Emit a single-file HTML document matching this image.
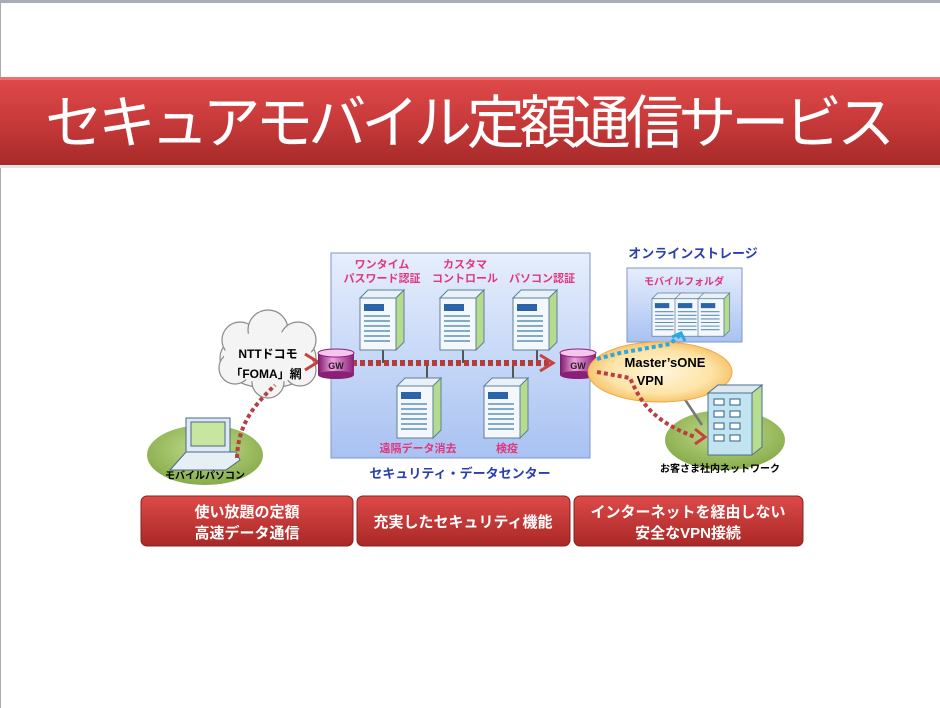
<!DOCTYPE html>
<html><head><meta charset="utf-8"><style>
html,body{margin:0;padding:0;background:#fff}
body{width:940px;height:708px;overflow:hidden;position:relative;font-family:"Liberation Sans","Noto Sans CJK JP",sans-serif}
</style></head><body>
<svg width="940" height="708" viewBox="0 0 940 708" xmlns="http://www.w3.org/2000/svg" style="position:absolute;left:0;top:0">
<defs>
<linearGradient id="tb" x1="0" y1="0" x2="0" y2="1"><stop offset="0" stop-color="#e04a4a"/><stop offset="0.5" stop-color="#c83a3a"/><stop offset="1" stop-color="#a82a2a"/></linearGradient>
<linearGradient id="bb" x1="0" y1="0" x2="0" y2="1"><stop offset="0" stop-color="#dd4a48"/><stop offset="1" stop-color="#a92826"/></linearGradient>
<linearGradient id="dc" x1="0" y1="0" x2="0" y2="1"><stop offset="0" stop-color="#e6eefc"/><stop offset="1" stop-color="#a9c2f2"/></linearGradient>
<radialGradient id="vpn" cx="0.5" cy="0.5" r="0.6"><stop offset="0" stop-color="#fff6dc"/><stop offset="0.6" stop-color="#fde3a6"/><stop offset="1" stop-color="#f4b24a"/></radialGradient>
<radialGradient id="gr" cx="0.5" cy="0.4" r="0.6"><stop offset="0" stop-color="#c5dc8e"/><stop offset="1" stop-color="#86ac4a"/></radialGradient>
<linearGradient id="cyl" x1="0" y1="0" x2="1" y2="0"><stop offset="0" stop-color="#7a1a6a"/><stop offset="0.4" stop-color="#f0a0e0"/><stop offset="1" stop-color="#8a1f78"/></linearGradient>
<g id="srv">
<polygon points="0,8 8,0 44,0 36,8" fill="#e8f0f8" stroke="#5d7f9b" stroke-width="1"/>
<polygon points="36,8 44,0 44,52 36,60" fill="#b5dc8e" stroke="#5d7f9b" stroke-width="1"/>
<rect x="0" y="8" width="36" height="52" fill="#f4f8fc" stroke="#5d7f9b" stroke-width="1"/>
<rect x="4" y="14" width="20" height="7" fill="#2b64a8"/>
<g stroke="#5d8fb8" stroke-width="1.5"><line x1="4" y1="26" x2="30" y2="26"/><line x1="4" y1="31" x2="30" y2="31"/><line x1="4" y1="36" x2="30" y2="36"/><line x1="4" y1="41" x2="30" y2="41"/><line x1="4" y1="46" x2="30" y2="46"/><line x1="4" y1="51" x2="30" y2="51"/></g>
</g>
<g id="gw">
<rect x="0" y="5" width="36" height="22" fill="url(#cyl)"/>
<ellipse cx="18" cy="27" rx="18" ry="4" fill="#8a1f78"/>
<ellipse cx="18" cy="5" rx="18" ry="4" fill="#f6c6ee" stroke="#8a1f78"/>
<text x="18" y="21" font-size="9" font-weight="bold" text-anchor="middle" fill="#222">GW</text>
</g>
</defs>
<rect x="0" y="0" width="940" height="3" fill="#a8acb4"/>
<rect x="0" y="0" width="1" height="708" fill="#a8acb4"/>
<rect x="0" y="165" width="940" height="3" fill="#e4e4e4"/>
<rect x="0" y="77" width="940" height="88" fill="url(#tb)"/>
<rect x="0" y="77" width="940" height="3" fill="#ec7070"/>
<text x="470" y="143" font-size="58" fill="#fff" text-anchor="middle" textLength="850">セキュアモバイル定額通信サービス</text>

<rect x="331" y="253" width="259" height="205" fill="url(#dc)" stroke="#7f97c8"/>
<g font-size="11" font-weight="bold" fill="#e0357f" text-anchor="middle">
<text x="382" y="268">ワンタイム</text><text x="382" y="282">パスワード認証</text>
<text x="465" y="268">カスタマ</text><text x="465" y="282">コントロール</text>
<text x="542" y="282">パソコン認証</text>
<text x="418" y="452">遠隔データ消去</text><text x="507" y="452">検疫</text>
</g>
<g stroke="#555" stroke-width="2"><line x1="383" y1="350" x2="383" y2="363"/><line x1="463" y1="350" x2="463" y2="363"/><line x1="537" y1="350" x2="537" y2="363"/><line x1="427" y1="363" x2="427" y2="378"/><line x1="513" y1="363" x2="513" y2="378"/></g>
<use href="#srv" x="360" y="290"/><use href="#srv" x="440" y="290"/><use href="#srv" x="513" y="290"/>
<use href="#srv" x="397" y="378"/><use href="#srv" x="484" y="378"/>
<line x1="352" y1="363" x2="552" y2="363" stroke="#b33c3c" stroke-width="6" stroke-dasharray="5,3"/>
<polyline points="540,355 553,363 540,371" fill="none" stroke="#c84040" stroke-width="3"/>
<text x="460" y="478" font-size="13" font-weight="bold" fill="#2a3fb0" text-anchor="middle">セキュリティ・データセンター</text>

<g fill="#f4f4f4" stroke="#8a8a8a" stroke-width="1.2">
<ellipse cx="268" cy="358" rx="48" ry="30"/>
<circle cx="240" cy="340" r="18"/><circle cx="268" cy="330" r="20"/><circle cx="298" cy="340" r="18"/>
<circle cx="235" cy="368" r="16"/><circle cx="300" cy="370" r="16"/><circle cx="268" cy="382" r="16"/>
</g>
<ellipse cx="268" cy="357" rx="44" ry="26" fill="#f4f4f4"/>
<text x="268" y="358" font-size="12" font-weight="bold" text-anchor="middle">NTTドコモ</text>
<text x="266" y="378" font-size="12" font-weight="bold" text-anchor="middle">「FOMA」網</text>
<polyline points="305,354 318,362 305,370" fill="none" stroke="#c84040" stroke-width="3"/>
<use href="#gw" x="318" y="348"/>
<use href="#gw" x="560" y="348"/>

<ellipse cx="205" cy="455" rx="58" ry="30" fill="url(#gr)"/>
<rect x="186" y="418" width="44" height="34" fill="#dfe9f3" stroke="#4a6888"/>
<rect x="191" y="422" width="34" height="24" fill="#c8e6a0" stroke="#4a6888"/>
<polygon points="170,470 186,452 236,452 240,460 226,470" fill="#e6eef6" stroke="#4a6888"/>
<text x="205" y="479" font-size="10" font-weight="bold" text-anchor="middle">モバイルパソコン</text>
<path d="M237,458 C238,420 260,400 275,385" fill="none" stroke="#b84040" stroke-width="4" stroke-dasharray="4,3"/>

<text x="693" y="258" font-size="13" font-weight="bold" fill="#2a3fb0" text-anchor="middle">オンラインストレージ</text>
<rect x="627" y="268" width="115" height="74" fill="url(#dc)" stroke="#7f97c8"/>
<text x="684" y="285" font-size="10" font-weight="bold" fill="#e0357f" text-anchor="middle">モバイルフォルダ</text>
<g transform="translate(652,293) scale(0.72)"><use href="#srv"/></g>
<g transform="translate(675,293) scale(0.72)"><use href="#srv"/></g>
<g transform="translate(698,293) scale(0.72)"><use href="#srv"/></g>

<ellipse cx="725" cy="440" rx="60" ry="30" fill="url(#gr)"/>
<line x1="682" y1="395" x2="702" y2="425" stroke="#777" stroke-width="2.5"/>

<ellipse cx="660" cy="372" rx="72" ry="30" fill="url(#vpn)" stroke="#f0a840"/>
<polyline points="597,359 620,353 670,344 680,335" fill="none" stroke="#2aa8e0" stroke-width="4" stroke-dasharray="4,3"/>
<polyline points="672,337 681,333 685,341" fill="none" stroke="#2aa8e0" stroke-width="3"/>
<text x="665" y="367" font-size="13" font-weight="bold" text-anchor="middle">Master’sONE</text>
<text x="650" y="385" font-size="13" font-weight="bold" text-anchor="middle">VPN</text>

<g transform="translate(708,385)">
<polygon points="0,8 10,0 54,0 44,8" fill="#dce8f2" stroke="#4a7090"/>
<polygon points="44,8 54,0 54,62 44,70" fill="#b8dc90" stroke="#4a7090"/>
<rect x="0" y="8" width="44" height="62" fill="#c2e4f0" stroke="#4a7090"/>
<g fill="#fff" stroke="#2a5f8a">
<rect x="6" y="14" width="10" height="6"/><rect x="22" y="14" width="10" height="6"/>
<rect x="6" y="26" width="10" height="6"/><rect x="22" y="26" width="10" height="6"/>
<rect x="6" y="38" width="10" height="6"/><rect x="22" y="38" width="10" height="6"/>
<rect x="6" y="50" width="10" height="6"/><rect x="22" y="50" width="10" height="6"/>
</g>
</g>
<path d="M597,372 L630,378 C640,400 650,420 695,437" fill="none" stroke="#b84040" stroke-width="4" stroke-dasharray="4,3"/>
<polyline points="695,429 705,437 695,444" fill="none" stroke="#c84040" stroke-width="3"/>
<text x="720" y="472" font-size="10" font-weight="bold" text-anchor="middle">お客さま社内ネットワーク</text>

<g>
<rect x="141" y="496" width="212" height="50" rx="6" fill="url(#bb)" stroke="#8a2020"/>
<rect x="357" y="496" width="213" height="50" rx="6" fill="url(#bb)" stroke="#8a2020"/>
<rect x="574" y="496" width="229" height="50" rx="6" fill="url(#bb)" stroke="#8a2020"/>
</g>
<g font-size="15" font-weight="bold" fill="#fff" text-anchor="middle">
<text x="247" y="517">使い放題の定額</text><text x="247" y="538">高速データ通信</text>
<text x="463" y="527">充実したセキュリティ機能</text>
<text x="688" y="517">インターネットを経由しない</text><text x="688" y="538">安全なVPN接続</text>
</g>
</svg>
</body></html>
